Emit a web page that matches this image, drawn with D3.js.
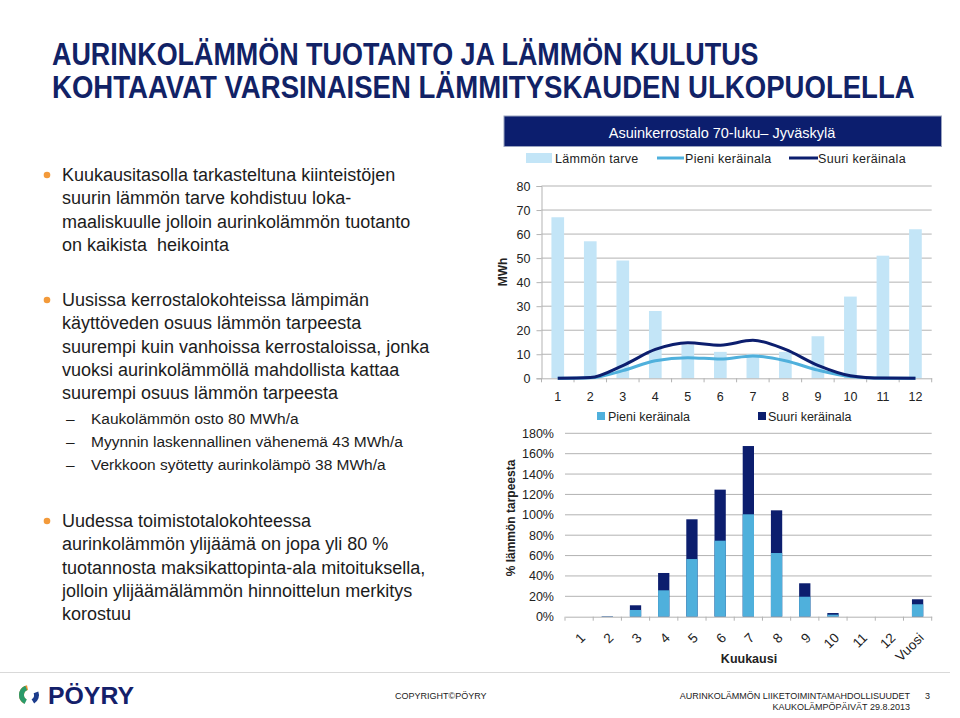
<!DOCTYPE html>
<html><head><meta charset="utf-8">
<script src="https://cdn.jsdelivr.net/npm/d3@7"></script>
<style>
html,body{margin:0;padding:0;background:#fff;}
svg text{font-family:"Liberation Sans",Arial,Helvetica,sans-serif;}
</style></head>
<body><svg id="c" width="960" height="718"></svg>
<script>
// ---- data ----
const months = ["1","2","3","4","5","6","7","8","9","10","11","12"];
const heatDemand = [67, 57, 49, 28, 14, 11, 10, 11, 17.5, 34, 51, 62];
const smallCollector = [0, 0.2, 3.2, 7.3, 8.6, 8.0, 9.3, 7.3, 3.4, 0.7, 0, 0];
const largeCollector = [0, 0.3, 5.3, 12, 14.8, 13.8, 15.8, 12, 5.4, 1.1, 0.1, 0];
const topTicks = [0, 10, 20, 30, 40, 50, 60, 70, 80];

const pctCategories = ["1","2","3","4","5","6","7","8","9","10","11","12","Vuosi"];
const smallPct = [0, 0.3, 6.6, 25.9, 56.6, 74.6, 100.5, 62.5, 19.6, 2, 0, 0, 12.2];
const largePct = [0, 0.5, 11.2, 42.9, 95.6, 124.7, 167.5, 104.4, 32.8, 3.6, 0, 0, 17.1];
const pctTicks = [0, 20, 40, 60, 80, 100, 120, 140, 160, 180];

const titleLines = ["AURINKOLÄMMÖN TUOTANTO JA LÄMMÖN KULUTUS",
                    "KOHTAAVAT VARSINAISEN LÄMMITYSKAUDEN ULKOPUOLELLA"];
const bullets = [
  {lines:["Kuukausitasolla tarkasteltuna kiinteistöjen","suurin lämmön tarve kohdistuu loka-","maaliskuulle jolloin aurinkolämmön tuotanto","on kaikista  heikointa"], y:181},
  {lines:["Uusissa kerrostalokohteissa lämpimän","käyttöveden osuus lämmön tarpeesta","suurempi kuin vanhoissa kerrostaloissa, jonka","vuoksi aurinkolämmöllä mahdollista kattaa","suurempi osuus lämmön tarpeesta"], y:306},
  {lines:["Uudessa toimistotalokohteessa","aurinkolämmön ylijäämä on jopa yli 80 %","tuotannosta maksikattopinta-ala mitoituksella,","jolloin ylijäämälämmön hinnoittelun merkitys","korostuu"], y:527}
];
const subBullets = ["Kaukolämmön osto 80 MWh/a","Myynnin laskennallinen vähenemä 43 MWh/a","Verkkoon syötetty aurinkolämpö 38 MWh/a"];

// ---- colours ----
const NAVY = "#0c1e6e", LIGHT = "#c3e5f7", MID = "#4fb0dc", TITLE = "#112266", GRID = "#b3b3b3";

const svg = d3.select("#c");
svg.append("rect").attr("width",960).attr("height",718).attr("fill","#fff");

// title (horizontally condensed via scale)
const titleTargets = [707, 863];
titleLines.forEach((t,i)=>{
  const el = svg.append("text").attr("x",0).attr("y",0)
    .attr("fill",TITLE).attr("font-size",31).attr("font-weight","bold").text(t);
  const w = el.node().getComputedTextLength();
  el.attr("transform",`translate(52,${65+i*32.5}) scale(${titleTargets[i]/w},1)`);
});

// bullets
const lh = 23.3;
bullets.forEach(b=>{
  svg.append("circle").attr("cx",47).attr("cy",b.y-6).attr("r",3.3).attr("fill","#f39a3a");
  b.lines.forEach((l,i)=>{
    svg.append("text").attr("x",62).attr("y",b.y+i*lh).attr("font-size",18).attr("fill","#1c1c1c")
      .style("white-space","pre").text(l);
  });
});
subBullets.forEach((s,i)=>{
  const y = 423.5 + i*23.4;
  svg.append("text").attr("x",66).attr("y",y).attr("font-size",15.5).attr("fill","#1c1c1c").text("–");
  svg.append("text").attr("x",91).attr("y",y).attr("font-size",15.5).attr("fill","#1c1c1c").text(s);
});

// ---- top chart ----
const tL = 541.5, tR = 931.7, tTop = 186, tBot = 378.3;
svg.append("rect").attr("x",504).attr("y",116).attr("width",437.5).attr("height",30.5)
  .attr("fill",NAVY).attr("stroke","#9aa3c0").attr("stroke-width",1);
svg.append("text").attr("x",722).attr("y",137.5).attr("text-anchor","middle")
  .attr("fill","#fff").attr("font-size",14.5).text("Asuinkerrostalo 70-luku– Jyväskylä");

const xTop = d3.scaleBand().domain(months).range([tL,tR]).paddingInner(0);
const yTop = d3.scaleLinear().domain([0,80]).range([tBot,tTop]);

const gT = svg.append("g");
gT.selectAll("line.grid").data(topTicks.filter(d=>d>0)).enter().append("line")
  .attr("x1",tL).attr("x2",tR).attr("y1",d=>yTop(d)).attr("y2",d=>yTop(d))
  .attr("stroke",GRID).attr("stroke-width",1);

const yAxT = gT.append("g").attr("transform",`translate(${tL},0)`)
  .call(d3.axisLeft(yTop).tickValues(topTicks).tickSize(5).tickPadding(6));
yAxT.select(".domain").attr("stroke",GRID);
yAxT.selectAll(".tick line").attr("stroke",GRID);
yAxT.selectAll("text").attr("font-size",12.5).attr("fill","#222").style("font-family","Liberation Sans, Arial");

const bw = xTop.bandwidth()*0.39;
gT.selectAll("rect.hd").data(heatDemand).enter().append("rect")
  .attr("x",(d,i)=>xTop(months[i])+xTop.bandwidth()/2-bw/2)
  .attr("y",d=>yTop(d)).attr("width",bw).attr("height",d=>tBot-yTop(d))
  .attr("fill",LIGHT);

const xAxT = gT.append("g").attr("transform",`translate(0,${tBot})`)
  .call(d3.axisBottom(xTop).tickSize(0).tickPadding(14));
xAxT.select(".domain").attr("stroke",GRID);
xAxT.selectAll("text").attr("font-size",12.5).attr("fill","#222").style("font-family","Liberation Sans, Arial");
gT.selectAll("line.xt").data(d3.range(13)).enter().append("line")
  .attr("x1",i=>tL+i*xTop.step()).attr("x2",i=>tL+i*xTop.step())
  .attr("y1",tBot).attr("y2",tBot+4).attr("stroke",GRID);

const line = d3.line().x((d,i)=>xTop(months[i])+xTop.bandwidth()/2).y(d=>yTop(d)).curve(d3.curveMonotoneX);
gT.append("path").datum(smallCollector).attr("d",line).attr("fill","none").attr("stroke",MID).attr("stroke-width",3);
gT.append("path").datum(largeCollector).attr("d",line).attr("fill","none").attr("stroke",NAVY).attr("stroke-width",3);

// top legend
const lgY = 158;
svg.append("rect").attr("x",526).attr("y",lgY-5).attr("width",26).attr("height",10).attr("fill",LIGHT);
svg.append("text").attr("x",555).attr("y",lgY+4.5).attr("font-size",12.5).attr("fill","#222").attr("letter-spacing",0.3).text("Lämmön tarve");
svg.append("line").attr("x1",657).attr("x2",684).attr("y1",lgY).attr("y2",lgY).attr("stroke",MID).attr("stroke-width",3);
svg.append("text").attr("x",685).attr("y",lgY+4.5).attr("font-size",12.5).attr("fill","#222").attr("letter-spacing",0.3).text("Pieni keräinala");
svg.append("line").attr("x1",789).attr("x2",818).attr("y1",lgY).attr("y2",lgY).attr("stroke",NAVY).attr("stroke-width",3);
svg.append("text").attr("x",818).attr("y",lgY+4.5).attr("font-size",12.5).attr("fill","#222").attr("letter-spacing",0.3).text("Suuri keräinala");

svg.append("text").attr("transform","translate(507,272) rotate(-90)").attr("text-anchor","middle")
  .attr("font-size",12).attr("font-weight","bold").attr("fill","#222").text("MWh");

// ---- bottom chart ----
const bL = 565, bR = 931.7, bTop = 433.3, bBot = 616.7;
const xB = d3.scaleBand().domain(pctCategories).range([bL,bR]).paddingInner(0);
const yB = d3.scaleLinear().domain([0,180]).range([bBot,bTop]);
const gB = svg.append("g");
gB.selectAll("line.grid").data(pctTicks.filter(d=>d>0)).enter().append("line")
  .attr("x1",bL).attr("x2",bR).attr("y1",d=>yB(d)).attr("y2",d=>yB(d))
  .attr("stroke",GRID);
const yAxB = gB.append("g").attr("transform",`translate(${bL},0)`)
  .call(d3.axisLeft(yB).tickValues(pctTicks).tickFormat(d=>d+"%").tickSize(0).tickPadding(11));
yAxB.select(".domain").remove();
yAxB.selectAll("text").attr("font-size",12.5).attr("fill","#222").style("font-family","Liberation Sans, Arial");

const bw2 = xB.bandwidth()*0.4;
gB.selectAll("rect.lg").data(largePct).enter().append("rect")
  .attr("x",(d,i)=>xB(pctCategories[i])+xB.bandwidth()/2-bw2/2)
  .attr("y",d=>yB(d)).attr("width",bw2).attr("height",d=>bBot-yB(d)).attr("fill",NAVY);
gB.selectAll("rect.sm").data(smallPct).enter().append("rect")
  .attr("x",(d,i)=>xB(pctCategories[i])+xB.bandwidth()/2-bw2/2)
  .attr("y",d=>yB(d)).attr("width",bw2).attr("height",d=>bBot-yB(d)).attr("fill",MID);

const xAxB = gB.append("g").attr("transform",`translate(0,${bBot})`)
  .call(d3.axisBottom(xB).tickSize(0).tickPadding(0));
xAxB.select(".domain").attr("stroke",GRID);
xAxB.selectAll("text").attr("font-size",13.5).attr("fill","#222").style("font-family","Liberation Sans, Arial")
  .attr("text-anchor","end").attr("dy",0)
  .attr("transform","translate(7,22) rotate(-45)");
gB.selectAll("line.xt").data(d3.range(14)).enter().append("line")
  .attr("x1",i=>bL+i*xB.step()).attr("x2",i=>bL+i*xB.step())
  .attr("y1",bBot).attr("y2",bBot+4).attr("stroke",GRID);

svg.append("rect").attr("x",597).attr("y",412).attr("width",8).attr("height",8).attr("fill",MID);
svg.append("text").attr("x",608).attr("y",420.5).attr("font-size",12.5).attr("fill","#222").text("Pieni keräinala");
svg.append("rect").attr("x",758).attr("y",412).attr("width",8).attr("height",8).attr("fill",NAVY);
svg.append("text").attr("x",768).attr("y",420.5).attr("font-size",12.5).attr("fill","#222").text("Suuri keräinala");

svg.append("text").attr("x",749).attr("y",663).attr("text-anchor","middle")
  .attr("font-size",12.5).attr("font-weight","bold").attr("fill","#222").text("Kuukausi");
svg.append("text").attr("transform","translate(515,518) rotate(-90)").attr("text-anchor","middle")
  .attr("font-size",12).attr("font-weight","bold").attr("fill","#222").text("% lämmön tarpeesta");

// ---- footer ----
svg.append("line").attr("x1",0).attr("x2",950).attr("y1",672.5).attr("y2",672.5).attr("stroke","#d9d9d9");
const logo = svg.append("g").attr("transform","translate(29,695)");
const arc = d3.arc().innerRadius(5).outerRadius(10);
logo.append("path").attr("d",arc({startAngle:-2.6,endAngle:-0.2})).attr("fill","#f0902a");
logo.append("path").attr("d",arc({startAngle:3.6,endAngle:5.9})).attr("fill","#2a9a6a");
logo.append("path").attr("d",arc({startAngle:1.2,endAngle:2.6})).attr("fill","#1c3c8c");
svg.append("text").attr("x",48).attr("y",704).attr("font-size",24).attr("font-weight","bold")
  .attr("fill","#14206a").attr("textLength",86).attr("lengthAdjust","spacingAndGlyphs").text("PÖYRY");
svg.append("text").attr("x",395).attr("y",699).attr("font-size",9).attr("fill","#222").text("COPYRIGHT©PÖYRY");
svg.append("text").attr("x",910).attr("y",699).attr("text-anchor","end").attr("font-size",9).attr("fill","#222").text("AURINKOLÄMMÖN LIIKETOIMINTAMAHDOLLISUUDET");
svg.append("text").attr("x",910).attr("y",710).attr("text-anchor","end").attr("font-size",9).attr("fill","#222").text("KAUKOLÄMPÖPÄIVÄT 29.8.2013");
svg.append("text").attr("x",925).attr("y",699).attr("font-size",9).attr("fill","#222").text("3");
</script></body></html>
